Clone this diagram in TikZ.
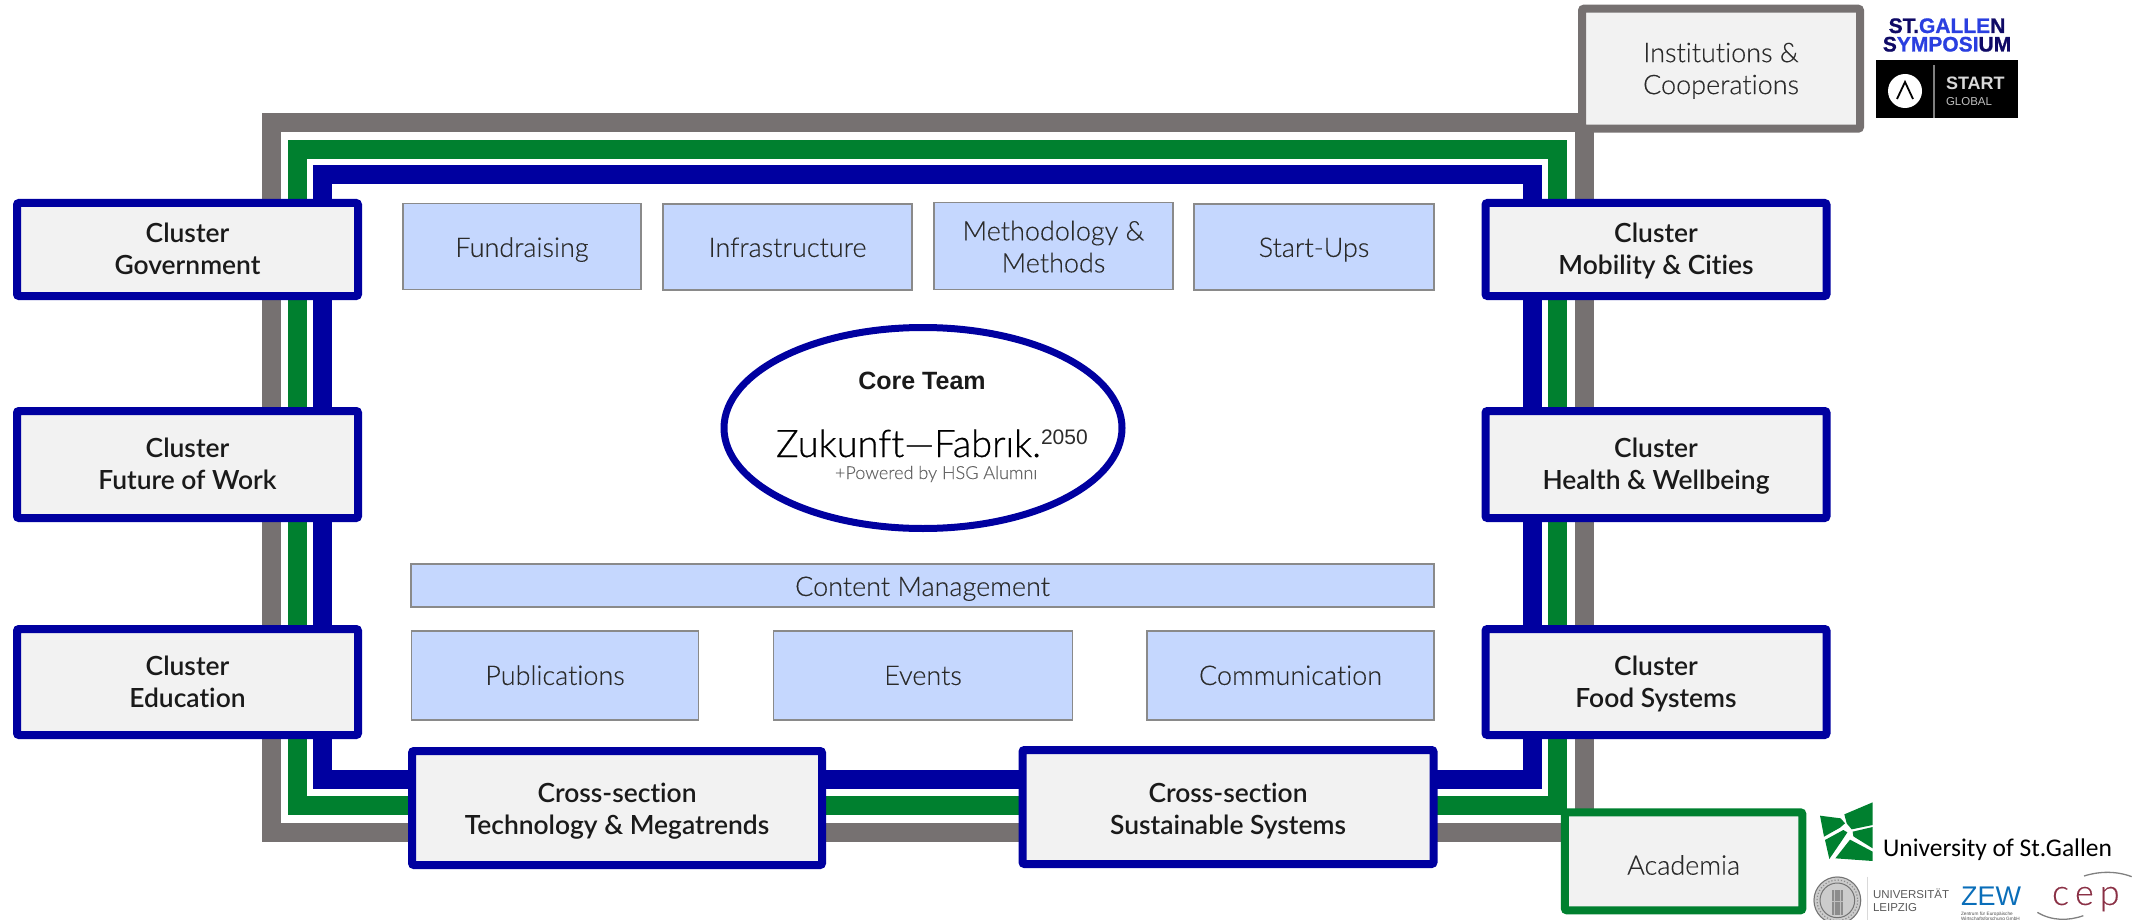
\documentclass[tikz,border=0pt]{standalone}
\usepackage{fontspec}
\setmainfont{Lato}
\newfontfamily\lightf{Lato Light}[FakeBold=0.25,Ligatures=NoCommon]
\newfontfamily\logof{Lato Light}[FakeBold=0.5,Ligatures=NoCommon]
\newfontfamily\medf{Lato Semibold}[Ligatures=NoCommon]
\newfontfamily\carf{Carlito}
\newfontfamily\helv{Liberation Sans}
\newfontfamily\heavyf{Liberation Sans Bold}[FakeBold=1]
\usetikzlibrary{shapes.geometric}
\definecolor{ringgray}{HTML}{767171}
\definecolor{ringgreen}{HTML}{00802F}
\definecolor{ringblue}{HTML}{0000A0}
\definecolor{boxfill}{HTML}{F2F2F2}
\definecolor{teamblue}{HTML}{C5D7FE}
\definecolor{teamedge}{HTML}{8A8A8A}
\definecolor{inktext}{HTML}{2B2B2B}
\definecolor{inkbold}{HTML}{1A1A1A}
\definecolor{hsggreen}{HTML}{00802F}
\definecolor{sgnavy}{HTML}{0F0A66}
\definecolor{sgblue}{HTML}{2A3FE0}
\definecolor{zewblue}{HTML}{0A6EB9}
\definecolor{cepred}{HTML}{8A3045}
\newcommand{\lab}[2]{\raisebox{-#1pt}[\height][\depth]{\begin{tabular}{@{}c@{}}#2\end{tabular}}}
\tikzset{
  ring/.style={line width=19pt,line join=miter},
  framed/.style={draw,line width=8pt,fill=boxfill,rounded corners=2pt,inner sep=0pt,text=inkbold,
    font=\medf\fontsize{26.4}{32}\selectfont},
  clusterbox/.style={framed,draw=ringblue,minimum width=341pt},
  crossbox/.style={framed,draw=ringblue},
  partnerbox/.style={framed,text=inktext,font=\lightf\fontsize{27}{32}\selectfont},
  teambox/.style={draw=teamedge,line width=1.5pt,fill=teamblue,inner sep=0pt,text=inktext,
    font=\lightf\fontsize{27}{32}\selectfont},
  plain/.style={inner sep=0pt,outer sep=0pt},
}
\begin{document}
\begin{tikzpicture}[x=1pt,y=-1pt]
\useasboundingbox (0,0) rectangle (2144,920);
% nested rings
\draw[ring,draw=ringgray] (271.5,123) rectangle (1584.5,832);
\draw[ring,draw=ringgreen] (297,149.5) rectangle (1557.5,805.5);
\draw[ring,draw=ringblue] (322.5,175) rectangle (1532,779.5);
% left clusters
\node[clusterbox,minimum height=93pt] (gov) at (187.5,249.5) {\lab{3}{Cluster\\Government}};
\node[clusterbox,minimum height=107pt] (work) at (187.5,464.5) {\lab{3}{Cluster\\Future of Work}};
\node[clusterbox,minimum height=106pt] (edu) at (187.5,682) {\lab{3}{Cluster\\Education}};
% right clusters
\node[clusterbox,minimum height=93pt] (mob) at (1656,249.5) {\lab{3}{Cluster\\Mobility \& Cities}};
\node[clusterbox,minimum height=107pt] (health) at (1656,464.5) {\lab{3}{Cluster\\Health \& Wellbeing}};
\node[clusterbox,minimum height=106pt] (food) at (1656,682) {\lab{3}{Cluster\\Food Systems}};
% cross sections
\node[crossbox,minimum width=410pt,minimum height=114pt] (tech) at (617,808) {\lab{4.4}{Cross-section\\Technology \& Megatrends}};
\node[crossbox,minimum width=411pt,minimum height=114pt] (sus) at (1228,807) {\lab{4.7}{Cross-section\\Sustainable Systems}};
% partners
\node[partnerbox,draw=ringgray,minimum width=278pt,minimum height=120pt] (inst) at (1721,68.7) {\lab{3}{Institutions \&\\Cooperations}};
\node[partnerbox,draw=ringgreen,minimum width=237.5pt,minimum height=98pt] (acad) at (1683.6,861.3) {\lab{7}{Academia}};
% team boxes
\node[teambox,minimum width=238pt,minimum height=86pt] (fund) at (522,246.5) {\lab{4}{Fundraising}};
\node[teambox,minimum width=249pt,minimum height=86pt] (infra) at (787.5,247) {\lab{3.5}{Infrastructure}};
\node[teambox,minimum width=239pt,minimum height=87pt] (meth) at (1053.5,246) {\lab{4}{Methodology \&\\Methods}};
\node[teambox,minimum width=240pt,minimum height=86pt] (start) at (1314,247) {\lab{3.5}{Start-Ups}};
\node[teambox,minimum width=1023pt,minimum height=43pt] (content) at (922.5,585.5) {\lab{4}{Content Management}};
\node[teambox,minimum width=287pt,minimum height=89pt] (pub) at (555,675.5) {\lab{3}{Publications}};
\node[teambox,minimum width=299pt,minimum height=89pt] (events) at (923,675.5) {\lab{3}{Events}};
\node[teambox,minimum width=287pt,minimum height=89pt] (comm) at (1290.5,675.5) {\lab{3}{Communication}};
% core team
\node[ellipse,draw=ringblue,line width=7pt,fill=white,minimum width=398pt,minimum height=201pt,inner sep=0pt] (core) at (923,428) {};
\node[plain,font=\helv\fontsize{25}{28}\selectfont\bfseries,text=inkbold] (coretxt) at (922,381) {Core Team};
\node[plain,anchor=base west,font=\logof\fontsize{38}{44}\selectfont,text=black] (zf) at (776,457) {Zukunft—Fabrık.};
\node[plain,anchor=base west,font=\helv\fontsize{21}{24}\selectfont,text=inktext] (zfyear) at (1041,444) {2050};
\node[plain,anchor=base west,font=\lightf\fontsize{18}{20}\selectfont,text=black!60] (zfsub) at (835,479) {+Powered by HSG Alumnı};
% St.Gallen Symposium logo
\node[plain,anchor=base,font=\heavyf\fontsize{21}{22}\selectfont] (sg1) at (1947,33) {\textcolor{sgnavy}{ST.}\textcolor{sgblue}{GALLE}\textcolor{sgnavy}{N}};
\node[plain,anchor=base,font=\heavyf\fontsize{21}{22}\selectfont] (sg2) at (1947,51.5) {\textcolor{sgnavy}{S}\textcolor{sgblue}{YMPOSI}\textcolor{sgnavy}{UM}};
% START Global logo
\fill[black] (1876,60) rectangle (2018,118);
\fill[white] (1905,91) circle (17);
\draw[black,line width=1.8pt] (1897,99) -- (1905,82) -- (1913,99);
\draw[gray,line width=1.5pt] (1934,65) -- (1934,118);
\node[plain,anchor=base west,font=\helv\fontsize{18}{20}\selectfont\bfseries,text=white!85!black] (st1) at (1946,90) {START};
\node[plain,anchor=base west,font=\helv\fontsize{11.5}{13}\selectfont,text=white!75!black] (st2) at (1946,106) {GLOBAL};
% HSG logo and lower logos
\begin{scope}[shift={(1810,795)},x=0.33333pt,y=-0.33333pt]
  \fill[hsggreen] (103,58) -- (188,22) -- (188,90) -- (125,103) -- (110,85) -- cycle;
  \fill[hsggreen] (30,62) -- (92,70) -- (105,85) -- (90,98) -- (42,125) -- cycle;
  \fill[hsggreen] (45,135) -- (100,105) -- (112,112) -- (88,148) -- (58,192) -- cycle;
  \fill[hsggreen] (128,110) -- (188,96) -- (188,160) -- (130,124) -- cycle;
  \fill[hsggreen] (120,134) -- (188,170) -- (188,198) -- (76,190) -- cycle;
  % Leipzig seal
  \fill[black!20] (82,316) circle (72);
  \draw[black!55,line width=1pt] (82,316) circle (70);
  \draw[black!55,line width=1pt] (82,316) circle (52);
  \draw[black!45,dotted,line width=1.2pt] (82,316) circle (61);
  \fill[black!45] (65,285) rectangle (98,360);
  \draw[black!25,line width=1pt] (72,285) -- (72,360) (90,285) -- (90,360) (65,320) -- (98,320);
  \draw[black!15,line width=1pt] (172,245) -- (172,375);
  % arcs of the cep logo
  \draw[black!50,line width=1.3pt] (822,243) .. controls (870,228) and (920,228) .. (965,245);
  \draw[black!50,line width=1.3pt] (682,352) .. controls (725,378) and (775,378) .. (820,362);
\end{scope}
\node[plain,anchor=base west,font=\carf\fontsize{25.5}{30}\selectfont,text=black] (hsg) at (1883,856) {University of St.Gallen};
\node[plain,anchor=base west,font=\helv\fontsize{11.5}{13}\selectfont,text=black!65] (ul1) at (1873,898.5) {UNIVERSITÄT};
\node[plain,anchor=base west,font=\helv\fontsize{11.5}{13}\selectfont,text=black!65] (ul2) at (1873,911.5) {LEIPZIG};
\node[plain,anchor=base west,font=\helv\fontsize{27}{28}\selectfont,text=zewblue] (zew) at (1961,905.5) {ZEW};
\node[plain,anchor=base west,font=\helv\fontsize{4.7}{6}\selectfont,text=black!70] (zew1) at (1961,915) {Zentrum für Europäische};
\node[plain,anchor=base west,font=\helv\fontsize{4.7}{6}\selectfont,text=black!70] (zew2) at (1961,920) {Wirtschaftsforschung GmbH};
\node[plain,anchor=base west,font=\lightf\fontsize{36}{38}\selectfont,text=cepred] (cep) at (2052,905) {c\,e\,p};
\end{tikzpicture}
\end{document}
